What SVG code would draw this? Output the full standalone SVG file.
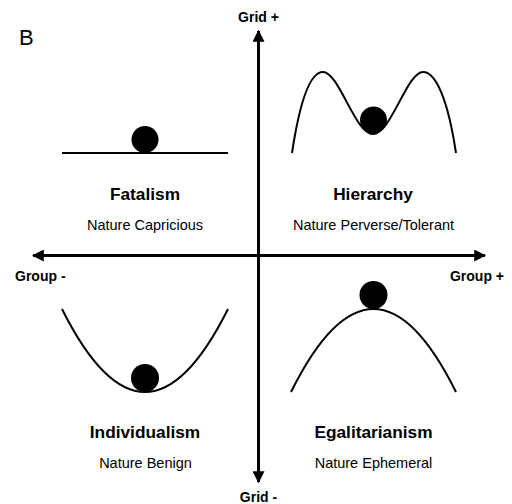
<svg xmlns="http://www.w3.org/2000/svg" width="512" height="504" viewBox="0 0 512 504">
<style>
.ax{stroke:#000;stroke-width:3;fill:none}
.cv{stroke:#000;stroke-width:2;fill:none}
.ball{fill:#000}
.lab{font-family:"Liberation Sans",Arial,sans-serif;font-weight:bold;font-size:14px;fill:#000}
.ttl{font-family:"Liberation Sans",Arial,sans-serif;font-weight:bold;font-size:17.3px;fill:#000;text-anchor:middle}
.sub{font-family:"Liberation Sans",Arial,sans-serif;font-size:14.5px;fill:#000;text-anchor:middle}
</style>
<defs>
<marker id="ah" viewBox="0 0 10 10" refX="9" refY="5" markerWidth="4" markerHeight="4" markerUnits="strokeWidth" orient="auto-start-reverse">
<path d="M0,0 L10,5 L0,10 Z" fill="#000"/>
</marker>
</defs>
<rect width="512" height="504" fill="#fff"/>
<text x="19" y="45" font-family="Liberation Sans,Arial,sans-serif" font-size="22">B</text>
<g id="connectors">
<line class="ax" x1="258.5" y1="482" x2="258.5" y2="31" marker-end="url(#ah)" marker-start="url(#ah)"/>
<line class="ax" x1="33" y1="255.5" x2="485" y2="255.5" marker-end="url(#ah)" marker-start="url(#ah)"/>
</g>
<g id="axis-labels">
<text class="lab" x="258.5" y="22" text-anchor="middle">Grid +</text>
<text class="lab" x="258.5" y="502" text-anchor="middle">Grid -</text>
<text class="lab" x="15" y="281">Group -</text>
<text class="lab" x="504" y="281" text-anchor="end">Group +</text>
</g>
<g id="fatalism">
<line class="cv" x1="62" y1="153" x2="228" y2="153"/>
<circle class="ball" cx="145" cy="139.5" r="13.5"/>
<text class="ttl" x="145" y="200">Fatalism</text>
<text class="sub" x="145" y="230">Nature Capricious</text>
</g>
<g id="hierarchy">
<path class="cv" d="M292,153 C300,100 310,72 323,72 C339,72 355,134 373,134 C391,134 407,72 423,72 C436,72 448,100 456,153"/>
<circle class="ball" cx="373.5" cy="120" r="13.5"/>
<text class="ttl" x="373" y="200">Hierarchy</text>
<text class="sub" x="373.5" y="230">Nature Perverse/Tolerant</text>
</g>
<g id="individualism">
<path class="cv" d="M62,309 Q145,475 228,309"/>
<circle class="ball" cx="145" cy="378" r="14"/>
<text class="ttl" x="145" y="438">Individualism</text>
<text class="sub" x="145.5" y="468">Nature Benign</text>
</g>
<g id="egalitarianism">
<path class="cv" d="M291,392 Q373.5,226 456,392"/>
<circle class="ball" cx="373.5" cy="295" r="14"/>
<text class="ttl" x="373.5" y="438">Egalitarianism</text>
<text class="sub" x="373.5" y="468">Nature Ephemeral</text>
</g>
</svg>
